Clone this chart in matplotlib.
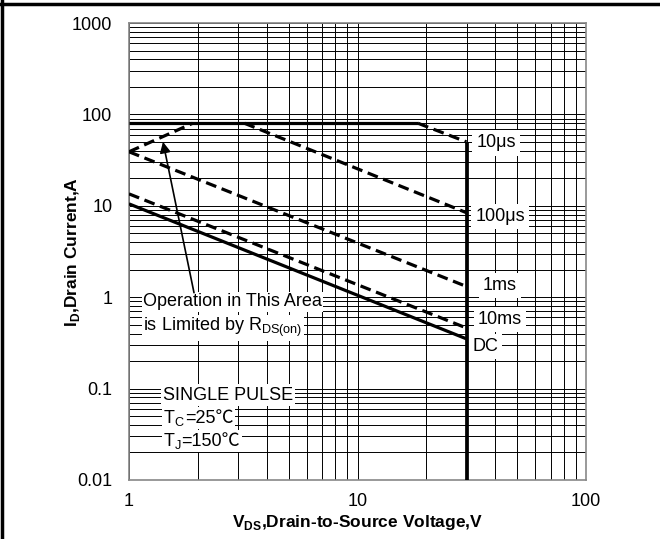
import numpy as np
import matplotlib
matplotlib.use("Agg")
import matplotlib.pyplot as plt
from matplotlib.lines import Line2D

plt.rcParams['font.family'] = ['Liberation Sans', 'DejaVu Sans']

# package limit (solid) and the 10us segment
limit_v = [1, 18.4]
limit_i = [80, 80]
us10_v = [18.4, 30]
us10_i = [80, 50]

# RDS(on) limit
rds_v = [1, 1.9]
rds_i = [39, 80]

us100_v = [3.2, 30]
us100_i = [80, 8.4]

ms1_v = [1, 30]
ms1_i = [39, 1.31]

ms10_v = [1, 30]
ms10_i = [13.5, 0.46]

dc_v = [1, 30]
dc_i = [10.5, 0.35]

vmax_v = [30, 30]
vmax_i = [50, 0.01]

curve_labels = ["10μs", "100μs", "1ms", "10ms", "DC"]
label_pos = [(496, 143), (500, 217), (500, 286), (500, 320), (485, 347)]

fig = plt.figure(figsize=(6.6, 5.39), dpi=100)
ax = fig.add_axes([129/660, 1 - 480/539, 457/660, 457/539])

def px2data(px, py):
    return 10 ** ((px - 129) / 228.5), 10 ** ((297.5 - py) / 91.5)

ax.set_xscale('log')
ax.set_yscale('log')
ax.set_xlim(1, 100)
ax.set_ylim(0.01, 1000)

ax.grid(True, which='both', color='black', linewidth=0.7, zorder=1)
ax.set_axisbelow(True)
for s in ax.spines.values():
    s.set_color('#888888')
    s.set_linewidth(1.2)
ax.tick_params(which='both', length=0, labelsize=13)
ax.tick_params(axis='x', pad=9.5)
ax.tick_params(axis='y', pad=12)
ax.set_xticks([1, 10, 100])
ax.set_xticklabels(["1", "10", "100"])
ax.set_yticks([0.01, 0.1, 1, 10, 100, 1000])
ax.set_yticklabels(["0.01", "0.1", "1", "10", "100", "1000"])

dash = (0, (3.4, 1.8))
lw = 2.3
ax.plot(limit_v, limit_i, color='black', lw=lw, solid_capstyle='butt', zorder=4)
ax.plot(vmax_v, vmax_i, color='black', lw=lw + 0.4, solid_capstyle='butt', zorder=4)
ax.plot(dc_v, dc_i, color='black', lw=lw, solid_capstyle='butt', zorder=4)
for v, i in [(us10_v, us10_i), (rds_v, rds_i), (us100_v, us100_i),
             (ms1_v, ms1_i), (ms10_v, ms10_i)]:
    ax.plot(v, i, color='black', lw=lw, linestyle=dash, zorder=4)

box = dict(facecolor='white', edgecolor='none', pad=3)
for lab, (px, py) in zip(curve_labels, label_pos):
    x, y = px2data(px, py)
    ax.text(x, y, lab, fontsize=13, ha='center', va='center', bbox=box, zorder=3)

x, y = px2data(143, 302)
ax.text(x, y, "Operation in This Area", fontsize=13, ha='left', va='center',
        bbox=dict(facecolor='white', edgecolor='none', pad=1), zorder=3)
x, y = px2data(143, 328)
ax.text(x, y, r"is Limited by R$_{\mathregular{DS(on)}}$", fontsize=13, ha='left', va='center',
        bbox=dict(facecolor='white', edgecolor='none', pad=1), zorder=3)

ax.annotate("", xy=px2data(163, 142), xytext=px2data(194, 293),
            arrowprops=dict(arrowstyle='-|>', color='black', lw=1.2,
                            mutation_scale=16, shrinkA=0, shrinkB=0), zorder=5)

tbox = dict(facecolor='white', edgecolor='none', pad=1.5)
x, y = px2data(163, 400)
ax.text(x, y, "SINGLE PULSE", fontsize=13, ha='left', va='baseline', bbox=tbox, zorder=3)
for sub, rest, py in [("C", "=25℃", 423), ("J", "=150℃", 446)]:
    x, y = px2data(163, py)
    t = ax.text(x, y, r"T$_{\mathregular{%s}}$" % sub, fontsize=13, ha='left',
                va='baseline', bbox=dict(facecolor='white', edgecolor='none', pad=0.5),
                zorder=3.5)
    ax.annotate(rest, xy=(1, y), xycoords=(t, 'data'), fontsize=13, ha='left',
                va='baseline', family=['Liberation Sans', 'Noto Sans CJK SC'],
                bbox=tbox, zorder=3)

ax.set_ylabel(r"I$_{\mathregular{D}}$,Drain Current,A", fontsize=12.5, fontweight='bold')
ax.set_xlabel(r"V$_{\mathregular{DS}}$,Drain-to-Source Voltage,V", fontsize=12.5, fontweight='bold')
ax.yaxis.set_label_coords(-47 / 457, 0.5)
ax.xaxis.set_label_coords(0.5, -(513 - 480) / 457)

# partial black frame on top and left edges
fig.add_artist(Line2D([0, 1], [1 - 4/539, 1 - 4/539], color='black', lw=2.5, transform=fig.transFigure))
fig.add_artist(Line2D([2/660, 2/660], [0, 1], color='black', lw=2.5, transform=fig.transFigure))

fig.savefig("out.png", dpi=100)
